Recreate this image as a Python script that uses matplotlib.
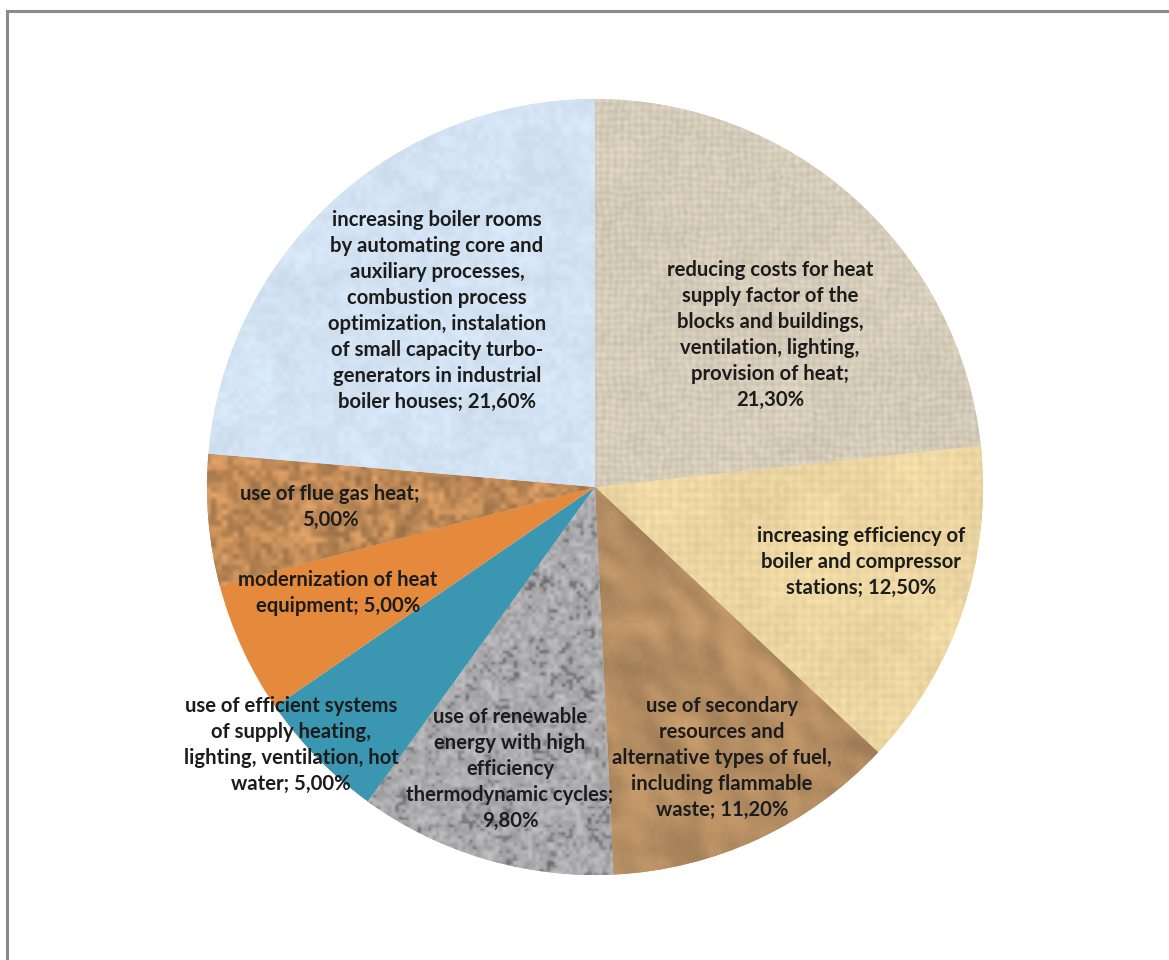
import numpy as np
import matplotlib.pyplot as plt
from matplotlib.lines import Line2D

# slices, clockwise from 12 o'clock
names = [
    "reducing costs for heat\nsupply factor of the\nblocks and buildings,\nventilation, lighting,\nprovision of heat;",
    "increasing efficiency of\nboiler and compressor\nstations;",
    "use of secondary\nresources and\nalternative types of fuel,\nincluding flammable\nwaste;",
    "use of renewable\nenergy with high\nefficiency\nthermodynamic cycles;",
    "use of efficient systems\nof supply heating,\nlighting, ventilation, hot\nwater;",
    "modernization of heat\nequipment;",
    "use of flue gas heat;",
    "increasing boiler rooms\nby automating core and\nauxiliary processes,\ncombustion process\noptimization, instalation\nof small capacity turbo-\ngenerators in industrial\nboiler houses;",
]
shares = [21.3, 12.5, 11.2, 9.8, 5.0, 5.0, 5.0, 21.6]
# value goes on same line (" ") or next line ("\n")
seps = ["\n", " ", " ", "\n", " ", " ", "\n", " "]

colors = ['#d5cbb9', '#ecd6a2', '#b48d62', '#a9a9ab', '#3b97b1', '#e5893d', '#bf8a57', '#d3e3f3']
textures = ['linen', 'papyrus', 'crumple', 'granite', None, None, 'cork', 'paper']

# label centres in figure pixels (x from left, y from top)
label_px = [(770, 335), (861, 562), (722, 758), (510, 769),
            (291, 745), (338, 593), (330, 507), (437, 311)]

W, H = 1169, 960
CX, CY, R = 595, 487, 388

fig = plt.figure(figsize=(W / 100, H / 100), dpi=100)
fig.patch.set_facecolor('white')
ax = fig.add_axes([(CX - R) / W, (H - CY - R) / H, 2 * R / W, 2 * R / H])

wedges, _ = ax.pie(shares, colors=colors, startangle=90, counterclock=False,
                   radius=1, wedgeprops=dict(linewidth=0))

# ---- surface textures (decoration only) ----
rng = np.random.default_rng(7)
N = 420


def upsample(a, n):
    m = a.shape[0]
    xs = np.linspace(0, m - 1, n)
    i0 = np.floor(xs).astype(int)
    i1 = np.minimum(i0 + 1, m - 1)
    t = xs - i0
    t = t * t * (3 - 2 * t)  # smoothstep, less blocky
    rows = a[i0] * (1 - t)[:, None] + a[i1] * t[:, None]
    return rows[:, i0] * (1 - t)[None, :] + rows[:, i1] * t[None, :]


def blur(a, k):
    for axis in (0, 1):
        c = np.cumsum(np.pad(a, [(k, k) if i == axis else (0, 0) for i in (0, 1)], mode='edge'), axis=axis)
        c = np.insert(c, 0, 0, axis=axis)
        a = (np.take(c, range(2 * k + 1, c.shape[axis]), axis=axis)
             - np.take(c, range(0, c.shape[axis] - 2 * k - 1), axis=axis)) / (2 * k + 1)
    return a


def noise(k):
    return upsample(rng.random((k, k)), N) - 0.5


def make_texture(kind, base):
    rgb = np.array(plt.matplotlib.colors.to_rgb(base))
    yy, xx = np.mgrid[0:N, 0:N]
    if kind == 'linen':
        v = 0.025 * np.sin(xx * 1.7 + noise(40) * 4) + 0.025 * np.sin(yy * 1.7 + noise(40) * 4) \
            + 0.07 * noise(N // 2) + 0.04 * noise(30)
    elif kind == 'papyrus':
        v = 0.015 * np.sin(xx * 1.3) + 0.015 * np.sin(yy * 1.3) + 0.05 * noise(N // 3) + 0.05 * noise(20)
    elif kind == 'crumple':
        n = blur(noise(18) + 0.6 * noise(40), 3)
        gy, gx = np.gradient(n)
        v = 0.14 * np.tanh((gx - gy) * 12) + 0.04 * noise(N // 2) + 0.05 * noise(10)
    elif kind == 'granite':
        v = 0.35 * noise(N // 2) + 0.2 * noise(N // 5)
        v = np.where(v < -0.12, v * 1.6, v * 0.7)
    elif kind == 'cork':
        v = 0.3 * noise(N // 3) + 0.15 * noise(N // 8)
    else:  # paper
        v = 0.05 * noise(N // 3) + 0.04 * noise(40)
    img = np.clip(rgb[None, None, :] * (1 + v[..., None]), 0, 1)
    return img


for w, kind, c in zip(wedges, textures, colors):
    if kind is None:
        continue
    im = ax.imshow(make_texture(kind, c), extent=(-1, 1, -1, 1),
                   interpolation='bilinear', zorder=w.get_zorder() + 0.1)
    im.set_clip_path(w)

ax.set_xlim(-1, 1)
ax.set_ylim(-1, 1)
ax.set_aspect('auto')
ax.axis('off')

# ---- data labels ----
for name, sep, v, (px, py) in zip(names, seps, shares, label_px):
    txt = name + sep + f"{v:.2f}".replace('.', ',') + "%"
    ax.text((px - CX) / R, (CY - py) / R, txt, ha='center', va='center',
            fontsize=14.6, fontweight='bold', family='Lato', color='#1c1c1c',
            linespacing=1.37, zorder=10)

# frame of the chart area (top and left only visible)
fig.add_artist(Line2D([7 / W, 1], [1 - 11 / H] * 2, color='#8a8a8a', lw=2.2,
                      transform=fig.transFigure))
fig.add_artist(Line2D([7 / W] * 2, [0, 1 - 11 / H], color='#8a8a8a', lw=2.2,
                      transform=fig.transFigure))

fig.savefig('out.png', dpi=100, facecolor='white')
